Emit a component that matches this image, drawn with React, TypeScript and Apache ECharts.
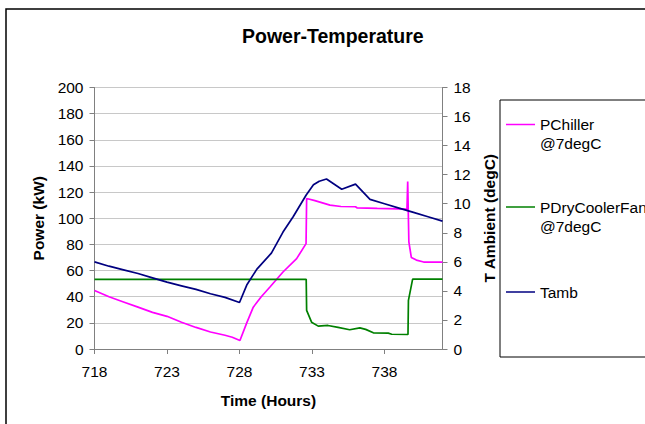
import React, { useEffect, useRef } from "react";
import * as echarts from "echarts";

const TITLE = "Power-Temperature";
const X_NAME = "Time (Hours)";
const Y_LEFT_NAME = "Power (kW)";
const Y_RIGHT_NAME = "T Ambient (degC)";
const X_TICKS = [718, 723, 728, 733, 738];
const SERIES_NAMES = ["PChiller\n@7degC", "PDryCoolerFan\n@7degC", "Tamb"];
const COLORS = ["#ff00ff", "#008000", "#000080"];

// [hour, kW]
const pChiller: [number, number][] = [
  [718, 44.8], [719, 40], [720, 36], [721, 32], [722, 28], [723, 25],
  [724, 20.5], [725, 16.5], [726, 13], [727, 10.5], [727.5, 9], [728.03, 6.5],
  [728.5, 20], [728.95, 32], [729.5, 40], [730.1, 47.4], [731.0, 58.9],
  [731.94, 69.1], [732.59, 80.6], [732.63, 115.1], [733.2, 113.5],
  [734.24, 110], [735, 109], [736, 108.8], [736.1, 108], [737.5, 107.5],
  [739.55, 107], [739.6, 128], [739.68, 82], [739.85, 70], [740.2, 68],
  [740.7, 66.5], [742, 66.5],
];

// [hour, kW]
const pDryCoolerFan: [number, number][] = [
  [718, 53.3], [732.6, 53.3], [732.63, 29.5], [732.97, 20.5], [733.43, 17.5],
  [734.1, 18], [734.8, 16.5], [735.6, 14.7], [736.3, 16.2], [736.7, 15],
  [737.23, 12.4], [738.26, 12.1], [738.5, 11.3], [739.62, 11.1],
  [739.65, 37.2], [739.94, 53.5], [742, 53.5],
];

// [hour, degC]
const tAmb: [number, number][] = [
  [718, 6.0], [719, 5.7], [720, 5.45], [721, 5.2], [722, 4.9], [723, 4.6],
  [724, 4.35], [725, 4.1], [726, 3.8], [727, 3.55], [728, 3.2], [728.5, 4.4],
  [729.2, 5.5], [730.2, 6.6], [731.0, 8.05], [731.7, 9.1], [732.6, 10.6],
  [733.1, 11.3], [733.5, 11.55], [734.0, 11.7], [735.05, 11.0], [736.0, 11.35],
  [737.0, 10.3], [738, 10.0], [739, 9.7], [740, 9.4], [741, 9.1], [742, 8.8],
];

const FONT = "'Liberation Sans', Arial, sans-serif";
const AXIS_COLOR = "#808080";

export default function App() {
  const ref = useRef<HTMLDivElement>(null);
  useEffect(() => {
    if (!ref.current) return;
    const chart = echarts.init(ref.current, undefined, { renderer: "svg" });
    const legendYs = [124.5, 207, 292];
    const legendGraphics: any[] = [];
    SERIES_NAMES.forEach((name, i) => {
      legendGraphics.push({
        type: "line",
        shape: { x1: 506, y1: legendYs[i], x2: 535, y2: legendYs[i] },
        style: { stroke: COLORS[i], lineWidth: 1.5 },
        z: 10,
      });
      legendGraphics.push({
        type: "text",
        x: 540,
        y: legendYs[i] - 9.5,
        style: {
          text: name,
          fill: "#000",
          fontSize: 15.5,
          fontFamily: FONT,
          lineHeight: 19,
          align: "left",
          verticalAlign: "top",
        },
        z: 10,
      });
    });

    chart.setOption({
      animation: false,
      backgroundColor: "#fff",
      textStyle: { fontFamily: FONT },
      title: {
        text: TITLE,
        left: 237,
        top: 21,
        textStyle: { fontSize: 19.5, fontWeight: "bold", color: "#000", fontFamily: FONT },
      },
      grid: {
        left: 94.5,
        right: 202.5,
        top: 87.5,
        bottom: 75,
        outerBoundsMode: "none",
      },
      graphic: [
        {
          type: "rect",
          shape: { x: 6, y: 9, width: 800, height: 600 },
          style: { fill: "none", stroke: "#000", lineWidth: 1.5 },
          z: 0,
          silent: true,
        },
        {
          type: "rect",
          shape: { x: 500, y: 100, width: 300, height: 257 },
          style: { fill: "#fff", stroke: "#000", lineWidth: 1 },
          z: 9,
        },
        ...legendGraphics,
      ],
      xAxis: {
        type: "value",
        min: 718,
        max: 742,
        name: X_NAME,
        nameLocation: "middle",
        nameGap: 43,
        nameTextStyle: { fontSize: 15.5, fontWeight: "bold", color: "#000", fontFamily: FONT },
        axisLine: { show: true, lineStyle: { color: AXIS_COLOR, width: 1 } },
        axisTick: { show: true, length: 5, customValues: X_TICKS, lineStyle: { color: AXIS_COLOR } },
        axisLabel: { customValues: X_TICKS, fontSize: 15.5, color: "#000", margin: 14, fontFamily: FONT },
        splitLine: { show: false },
      },
      yAxis: [
        {
          type: "value",
          min: 0,
          max: 200,
          interval: 20,
          name: Y_LEFT_NAME,
          nameLocation: "middle",
          nameGap: 46,
          nameTextStyle: { fontSize: 15.5, fontWeight: "bold", color: "#000", fontFamily: FONT },
          axisLine: { show: true, lineStyle: { color: AXIS_COLOR, width: 1 } },
          axisTick: { show: true, length: 5, lineStyle: { color: AXIS_COLOR } },
          axisLabel: { fontSize: 15.5, color: "#000", margin: 11, fontFamily: FONT },
          splitLine: { show: true, lineStyle: { color: "#c8c8c8", width: 1 } },
        },
        {
          type: "value",
          min: 0,
          max: 18,
          interval: 2,
          position: "right",
          name: Y_RIGHT_NAME,
          nameLocation: "middle",
          nameRotate: 90,
          nameGap: 39,
          nameTextStyle: { fontSize: 15.5, fontWeight: "bold", color: "#000", fontFamily: FONT },
          axisLine: { show: true, lineStyle: { color: AXIS_COLOR, width: 1 } },
          axisTick: { show: true, length: 5, lineStyle: { color: AXIS_COLOR } },
          axisLabel: { fontSize: 15.5, color: "#000", margin: 11, fontFamily: FONT },
          splitLine: { show: false },
        },
      ],
      series: [
        {
          name: SERIES_NAMES[0],
          type: "line",
          yAxisIndex: 0,
          data: pChiller,
          showSymbol: false,
          lineStyle: { color: COLORS[0], width: 1.7 },
          itemStyle: { color: COLORS[0] },
          z: 3,
        },
        {
          name: SERIES_NAMES[1],
          type: "line",
          yAxisIndex: 0,
          data: pDryCoolerFan,
          showSymbol: false,
          lineStyle: { color: COLORS[1], width: 1.7 },
          itemStyle: { color: COLORS[1] },
          z: 3,
        },
        {
          name: SERIES_NAMES[2],
          type: "line",
          yAxisIndex: 1,
          data: tAmb,
          showSymbol: false,
          lineStyle: { color: COLORS[2], width: 1.7 },
          itemStyle: { color: COLORS[2] },
          z: 3,
        },
      ],
    });
    return () => chart.dispose();
  }, []);
  return (
    <div
      ref={ref}
      style={{ position: "fixed", left: 0, top: 0, width: 645, height: 424 }}
    />
  );
}
